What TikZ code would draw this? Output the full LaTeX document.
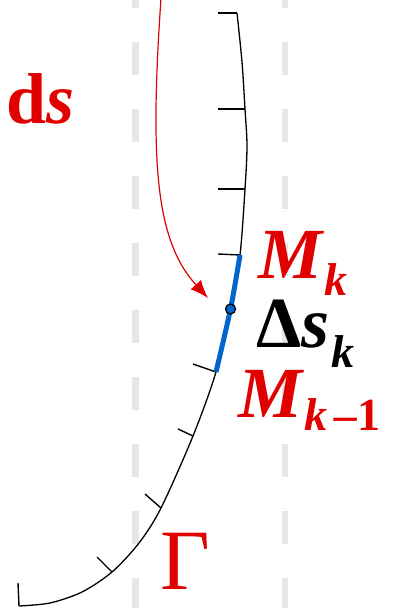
\documentclass[tikz,border=0pt]{standalone}
\usepackage{fontspec}
\setmainfont{Liberation Serif}
\usetikzlibrary{arrows.meta,calc}

\definecolor{lblred}{RGB}{225,0,0}
\definecolor{arcblue}{RGB}{0,102,204}
\definecolor{guidegray}{RGB}{230,230,230}

\newcommand{\lowsub}[2]{\hspace{2pt}\raisebox{#1}{\fontsize{46}{46}\selectfont #2}}

\begin{document}
\begin{tikzpicture}[x=1pt,y=-1pt,
    guide/.style={guidegray,line width=6.5pt,dash pattern=on 33pt off 34pt,dash phase=25pt},
    curve/.style={black,line width=1.3pt},
    tick/.style={black,line width=1.4pt},
    lbl/.style={inner sep=0pt,anchor=base west,font=\fontsize{72}{72}\selectfont\bfseries}]

    \useasboundingbox (0,0) rectangle (395,608);

    \draw[guide] (135.5,0) -- (135.5,608); % left guide
    \draw[guide] (285,0) -- (285,608); % right guide

    % points on the curve
    \coordinate (p0) at (19,606);
    \coordinate (pc) at (50,603);
    \coordinate (pd) at (82,592);
    \coordinate (p1) at (112,572);
    \coordinate (pe) at (139,543);
    \coordinate (p2) at (161,508);
    \coordinate (p3) at (193,436);
    \coordinate (p4) at (216,372);
    \coordinate (pm) at (230.5,309);
    \coordinate (p5) at (240,255);
    \coordinate (p6) at (245,189);
    \coordinate (pa) at (247,146);
    \coordinate (p7) at (245,109);
    \coordinate (pb) at (242,62);
    \coordinate (p8) at (237,13);

    % tick ends
    \coordinate (t0) at (18,583);
    \coordinate (t1) at (97,557);
    \coordinate (t2) at (145,494);
    \coordinate (t3) at (178,429);
    \coordinate (t4) at (193,364);
    \coordinate (t5) at (218,254);
    \coordinate (t6) at (218,189);
    \coordinate (t7) at (218,109);
    \coordinate (t8) at (218,13);

    \draw[curve] plot[smooth] coordinates {(p0) (pc) (pd) (p1) (pe) (p2) (p3) (p4) (pm) (p5) (p6) (pa) (p7) (pb) (p8)};
    \foreach \p/\t in {p0/t0,p1/t1,p2/t2,p3/t3,p4/t4,p5/t5,p6/t6,p7/t7,p8/t8}
        \draw[tick] (\p) -- (\t);

    \draw[arcblue,line width=5pt] plot[smooth] coordinates {(p4) (pm) (p5)}; % arc piece
    \node[circle,draw=black,fill=arcblue,line width=1.3pt,inner sep=0pt,minimum size=10pt] (dot) at (pm) {};

    % arrow from the top
    \coordinate (arrtop) at (161,-2);
    \coordinate (arrend) at (208,298);
    \draw[lblred,line width=1.2pt,-{Latex[length=18pt,width=14pt]}] (arrtop) .. controls (150,160) and (155,240) .. (arrend);

    \node[lbl,text=lblred] (ds) at (6,123) {d\textit{s}};
    \node[lbl,text=lblred] (mk) at (258,278) {\textit{M\lowsub{-17pt}{k}}};
    \node[lbl,text=black] (dsk) at (256,347) {Δ\textit{s\lowsub{-20pt}{k}}};
    \node[lbl,text=lblred] (mk1) at (238,417) {\textit{M\lowsub{-13pt}{k\,–\textup{1}}}};
    \node[lbl,text=lblred,font=\fontsize{86}{86}\selectfont] (gamma) at (160,589) {Γ};

\end{tikzpicture}
\end{document}
